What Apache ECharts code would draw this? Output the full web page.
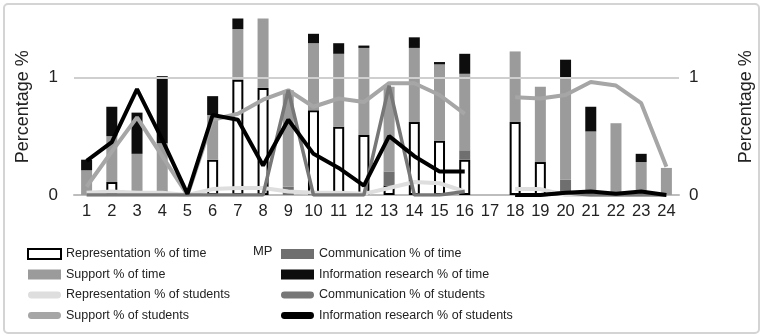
<!DOCTYPE html>
<html>
<head>
<meta charset="utf-8">
<script src="https://cdn.jsdelivr.net/npm/echarts@6/dist/echarts.min.js"></script>
<style>
  html, body { margin: 0; padding: 0; background: #fff; }
  #chart { width: 763px; height: 336px; }
</style>
</head>
<body>
<div id="chart"></div>
<script>
// categories (MP 1..24)
const mpList = ['1','2','3','4','5','6','7','8','9','10','11','12','13','14','15','16','17','18','19','20','21','22','23','24'];

// % of time (stacked bars)
const repTime     = [null, 0.11, null, null, null, 0.30, 0.98, 0.91, null, 0.72, 0.58, 0.51, 0.08, 0.62, 0.46, 0.30, null, 0.62, 0.28, null, null, null, null, null];
const commTime    = [0, 0, 0, 0, 0, 0, 0, 0, 0.07, 0, 0, 0, 0.12, 0, 0, 0.08, 0, 0, 0, 0.13, 0, 0.02, 0, 0];
const supportTime = [0.21, 0.39, 0.35, 0.44, 0, 0.38, 0.43, 0.59, 0.82, 0.57, 0.62, 0.74, 0.72, 0.63, 0.65, 0.65, 0, 0.60, 0.64, 0.86, 0.54, 0.59, 0.28, 0.23];
const infoTime    = [0.09, 0.25, 0.35, 0.57, 0, 0.16, 0.09, 0, 0, 0.08, 0.09, 0.02, 0, 0.09, 0.02, 0.17, 0, 0, 0, 0.16, 0.21, 0, 0.07, 0];

// % of students (lines)
const repStudents     = [0.02, 0.03, 0.02, 0.02, 0, 0.05, 0.06, 0.06, 0.03, 0.02, 0.02, 0.01, 0.06, 0.11, 0.10, 0.03, null, 0.05, 0.05, 0, 0, 0, 0, 0];
const supportStudents = [0.07, 0.37, 0.66, 0.33, 0, 0.64, 0.69, 0.81, 0.89, 0.75, 0.82, 0.79, 0.95, 0.95, 0.85, 0.69, null, 0.83, 0.82, 0.85, 0.96, 0.93, 0.78, 0.24];
const commStudents    = [0, 0, 0, 0, 0, 0, 0, 0, 0.89, 0, 0, 0, 0.93, 0, 0, 0.03, null, 0, 0, 0.02, 0, 0, 0, 0];
const infoStudents    = [0.29, 0.45, 0.90, 0.47, 0.01, 0.68, 0.64, 0.25, 0.64, 0.35, 0.23, 0.08, 0.50, 0.33, 0.20, 0.20, null, 0, 0, 0.02, 0.03, 0.01, 0.03, 0];

const yTicks = [0, 1];

const font = '"Liberation Sans", Arial, sans-serif';
const lineIcon = 'path://M3,0 H30 A3.5,3.5 0 0 1 30,7 H3 A3.5,3.5 0 0 1 3,0 Z';

let chart = echarts.init(document.getElementById('chart'));

function barSeries(name, data, color, extra) {
  return Object.assign({
    name: name,
    type: 'bar',
    stack: 'time',
    barWidth: 11,
    data: data,
    itemStyle: { color: color },
    emphasis: { disabled: true }
  }, extra || {});
}

function lineSeries(name, data, color, width) {
  return {
    name: name,
    type: 'line',
    data: data,
    symbol: 'none',
    color: color,
    lineStyle: { color: color, width: width },
    emphasis: { disabled: true },
    z: 5
  };
}

const legendCommon = {
  orient: 'vertical',
  padding: 0,
  itemWidth: 33, itemHeight: 10, itemGap: 6.5,
  textStyle: { fontFamily: font, fontSize: 12.5, color: '#222', lineHeight: 14 },
  selectedMode: false
};

chart.setOption({
  animation: false,
  graphic: [
    {
      type: 'rect',
      shape: { x: 4, y: 4, width: 755, height: 329, r: 4 },
      style: { fill: 'none', stroke: '#d4d4d4', lineWidth: 2 },
      silent: true
    },
    {
      type: 'text',
      left: 253,
      top: 245,
      style: { text: 'MP', font: '13px ' + font, fill: '#222' }
    }
  ],
  grid: { left: 74, right: 71, top: 18.5, bottom: 141 },
  legend: [
    Object.assign({
      left: 27, top: 247,
      data: [
        { name: 'Representation % of time', icon: 'rect', itemStyle: { color: '#fff', borderColor: '#000', borderWidth: 2 } },
        { name: 'Support % of time', icon: 'rect' },
        { name: 'Representation % of students', icon: lineIcon },
        { name: 'Support % of students', icon: lineIcon }
      ]
    }, legendCommon),
    Object.assign({
      left: 281, top: 247,
      data: [
        { name: 'Communication % of time', icon: 'rect' },
        { name: 'Information research % of time', icon: 'rect' },
        { name: 'Communication % of students', icon: lineIcon },
        { name: 'Information research % of students', icon: lineIcon }
      ]
    }, legendCommon)
  ],
  xAxis: {
    type: 'category',
    data: mpList,
    axisLine: { lineStyle: { color: '#bdbdbd', width: 2 } },
    axisTick: { show: false },
    axisLabel: { interval: 0, margin: 8, fontFamily: font, fontSize: 16.5, color: '#222' }
  },
  yAxis: [
    {
      type: 'value', min: 0, max: 1.5, interval: 1,
      name: 'Percentage %', nameLocation: 'middle', nameGap: 42, nameRotate: 90,
      nameTextStyle: { fontFamily: font, fontSize: 18, color: '#222' },
      axisLabel: { margin: 16, fontFamily: font, fontSize: 17, color: '#222', showMaxLabel: false,
        formatter: v => yTicks.includes(v) ? String(v) : '' },
      splitLine: { show: false },
      axisLine: { show: false },
      axisTick: { show: false }
    },
    {
      type: 'value', min: 0, max: 1.5, interval: 1, position: 'right',
      name: 'Percentage %', nameLocation: 'middle', nameGap: 58, nameRotate: 90,
      nameTextStyle: { fontFamily: font, fontSize: 18, color: '#222' },
      axisLabel: { margin: 10, fontFamily: font, fontSize: 17, color: '#222', showMaxLabel: false,
        formatter: v => yTicks.includes(v) ? String(v) : '' },
      splitLine: { show: false },
      axisLine: { show: false },
      axisTick: { show: false }
    }
  ],
  series: [
    barSeries('Representation % of time', repTime, '#fff', {
      itemStyle: { color: '#fff', borderColor: '#000', borderWidth: 2 },
      markLine: {
        silent: true, symbol: 'none', label: { show: false },
        lineStyle: { color: '#cfcfcf', width: 2, type: 'solid' },
        data: [{ yAxis: 1 }]
      }
    }),
    barSeries('Communication % of time', commTime, '#6f6f6f'),
    barSeries('Support % of time', supportTime, '#9b9b9b'),
    barSeries('Information research % of time', infoTime, '#0d0d0d'),
    lineSeries('Representation % of students', repStudents, '#dedede', 4),
    lineSeries('Support % of students', supportStudents, '#a6a6a6', 4),
    lineSeries('Communication % of students', commStudents, '#777777', 3.5),
    lineSeries('Information research % of students', infoStudents, '#000000', 4)
  ]
});
</script>
</body>
</html>
